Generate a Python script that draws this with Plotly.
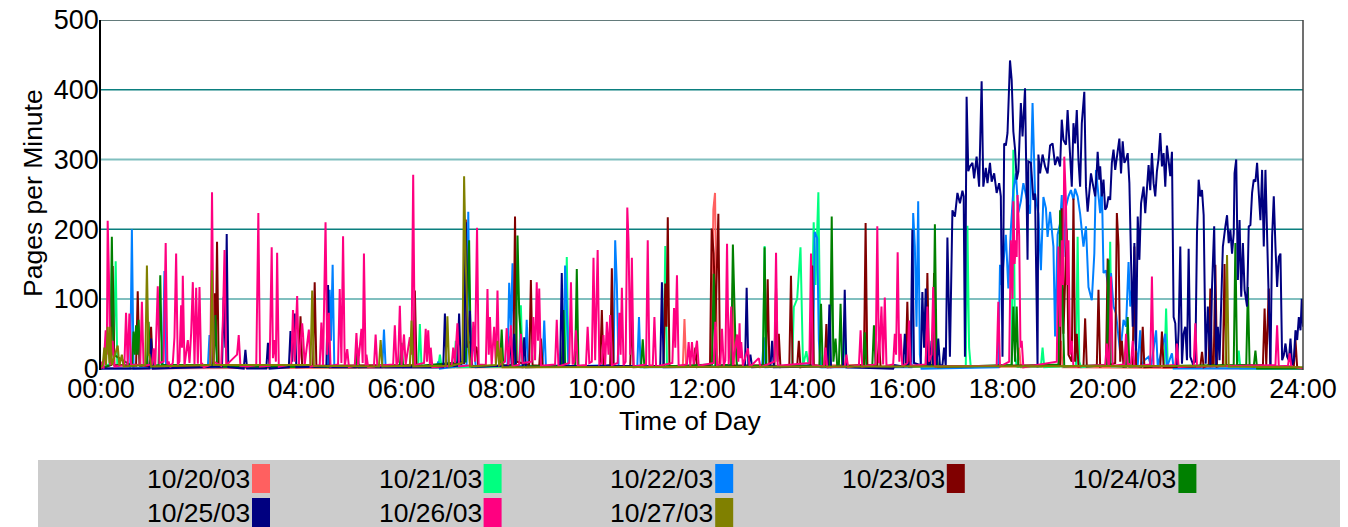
import plotly.graph_objects as go

# dates in the legend and their line colours
dates = ["10/20/03", "10/21/03", "10/22/03", "10/23/03", "10/24/03",
         "10/25/03", "10/26/03", "10/27/03"]
colors = ["#ff6060", "#00ff80", "#0080ff", "#800000", "#008000",
          "#000080", "#ff0080", "#808000"]

hour_ticks = [0, 2, 4, 6, 8, 10, 12, 14, 16, 18, 20, 22, 24]
hour_labels = ["00:00", "02:00", "04:00", "06:00", "08:00", "10:00", "12:00",
               "14:00", "16:00", "18:00", "20:00", "22:00", "24:00"]
y_ticks = [0, 100, 200, 300, 400, 500]

# (minute of day, pages per minute)
d20 = [(0, 0), (697, 3), (699, 71), (701, 3), (731, 5), (733.6, 228), (735.6, 252), (738, 20), (740, 2),
       (755, 5), (757, 123), (759, 3), (914, 5), (916, 124), (918, 3), (1098, 3), (1100, 30), (1102, 2),
       (1148, 3), (1150, 40), (1152, 2), (1440, 0)]

d21 = [(0, 0), (15, 10), (17.6, 154), (19.5, 5), (380, 3), (382, 64), (384, 2), (404, 2), (406, 20), (408, 2),
       (423, 2), (425, 40), (427, 2), (501, 3), (503, 91), (505, 3), (556, 3), (558, 160), (560, 3),
       (674, 4), (676, 176), (678, 3), (793, 3), (795, 176), (797, 3), (828, 4), (830, 88), (834, 100),
       (838, 174), (841, 4), (845, 25), (848, 3), (851, 40), (853.8, 210), (856, 120), (859.4, 253),
       (862, 20), (864, 2), (889, 3), (891, 53), (893, 2), (1036, 3), (1038, 205), (1040, 30), (1042, 2),
       (1091, 5), (1093, 314), (1095, 20), (1097, 3), (1126, 3), (1128, 30), (1130, 2), (1168, 4),
       (1170, 189), (1172, 10), (1174, 2), (1207, 5), (1209, 182), (1211, 3), (1274, 4), (1276, 86),
       (1278, 3), (1361, 3), (1363, 26), (1365, 0), (1440, 0)]

d22 = [(0, 0), (35, 0), (37, 200), (39, 0), (74, 2), (76, 140), (78, 2), (128, 2), (130, 48), (132, 2),
       (272, 3), (274, 113), (275.5, 40), (277.5, 149), (279.5, 3), (337, 2), (339, 56), (341, 2),
       (402, 2), (404, 10), (406, 0), (438, 5), (440, 225), (442, 20), (447, 30), (449, 2), (487, 5),
       (489, 123), (491, 60), (493, 151), (495, 5), (508, 3), (510, 70), (512, 3), (529, 4), (531, 69),
       (533, 3), (554, 5), (556, 148), (558, 90), (560, 3), (614, 5), (616, 184), (618, 120), (620, 4),
       (642.5, 3), (644.5, 74), (646.5, 2), (792, 3), (794, 45), (796, 2), (853, 5), (855, 196),
       (858, 187), (860, 40), (862, 2), (971, 2), (973, 223), (975, 175), (977, 60), (979, 240),
       (981, 20), (983, 0), (1075, 2), (1077, 149), (1079, 120), (1081, 150), (1084, 192), (1087, 115),
       (1090, 200), (1093, 256), (1096, 280), (1099, 224), (1102, 240), (1105, 266), (1109, 246),
       (1113, 222), (1116, 381), (1119, 251), (1123, 222), (1126, 141), (1129, 246), (1132, 230),
       (1134, 189), (1137, 225), (1141, 175), (1143, 46), (1146, 192), (1149, 208), (1151, 249),
       (1153, 160), (1156, 232), (1159, 247), (1162, 256), (1165, 242), (1167, 258), (1170, 247),
       (1173, 222), (1177, 175), (1180, 204), (1183, 117), (1187, 98), (1190, 165), (1192, 285),
       (1195, 247), (1197, 223), (1199, 266), (1201, 137), (1204, 141), (1207, 113), (1210, 137),
       (1213, 89), (1216, 79), (1221, 22), (1225, 70), (1228, 60), (1231, 153), (1233, 89), (1235, 113),
       (1239, 41), (1242, 5), (1245, 55), (1247, 3), (1250, 12), (1255, 17), (1258, 2), (1264, 55),
       (1266, 2), (1275, 50), (1277, 2), (1283, 22), (1285, 0), (1440, 0)]

d23 = [(0, 0), (12, 5), (14, 147), (16, 5), (42, 4), (44, 111), (46, 5), (58, 3), (60, 60), (62, 3),
       (134, 4), (136, 108), (137.5, 40), (139, 182), (141, 3), (237, 3), (239, 75), (241, 3), (254, 4),
       (256, 124), (258, 4), (374, 5), (376, 112), (378, 3), (435, 8), (437, 214), (439, 40), (450, 30),
       (452, 3), (494, 5), (496, 218), (498, 10), (513, 5), (515, 127), (517, 5), (525, 4), (527, 43),
       (529, 3), (598, 4), (600, 84), (602, 3), (610, 5), (612, 144), (614, 3), (634, 4), (636, 78),
       (638, 2), (674, 4), (676, 122), (677.5, 60), (679, 217), (681, 4), (710, 3), (712, 30), (714, 2),
       (729.6, 5), (731.6, 201), (734, 165), (736, 60), (739.6, 222), (741.6, 4), (796.7, 5),
       (798.7, 128), (800.7, 3), (806.7, 4), (808.7, 116), (810.5, 10), (812, 50), (814, 2),
       (824.6, 4), (826.6, 133), (828.6, 3), (834, 3), (836, 40), (838, 2), (850, 5), (852, 148),
       (854, 5), (867, 3), (869, 64), (871, 2), (914, 5), (916, 209), (918, 5), (930, 4), (932, 40),
       (934, 2), (964, 4), (966, 96), (968, 3), (988, 4), (990, 137), (992, 5), (996, 5), (998, 137),
       (1000, 3), (1149, 5), (1151, 230), (1153, 50), (1157, 200), (1159, 20), (1163, 10), (1165, 244),
       (1167, 10), (1169, 50), (1171, 3), (1177, 4), (1179, 72), (1181, 3), (1193, 4), (1195, 113),
       (1197, 3), (1204, 5), (1206, 158), (1208, 5), (1215, 8), (1217, 223), (1219, 177), (1221, 10),
       (1223, 40), (1225, 3), (1236, 5), (1238, 175), (1240, 4), (1246, 3), (1248, 60), (1250, 2),
       (1269, 3), (1271, 53), (1273, 2), (1317, 3), (1319, 24), (1321, 2), (1327, 5), (1329, 115),
       (1331, 3), (1333, 5), (1335, 149), (1337, 3), (1344, 5), (1346, 150), (1348, 4), (1392, 5),
       (1394, 86), (1396, 5), (1399, 115), (1401, 3), (1429, 3), (1431, 41), (1433, 2), (1440, 0)]

d24 = [(0, 0), (11, 5), (13, 189), (15, 20), (37, 4), (39, 53), (40.5, 20), (42, 62), (43.5, 20), (45, 70),
       (47, 4), (55, 5), (57, 67), (59, 3), (69, 5), (71, 134), (73, 5), (135, 5), (137, 77), (139, 3),
       (305, 2), (307, 30), (309, 2), (358, 3), (360, 37), (362, 2), (437, 10), (441, 184), (443, 20),
       (445, 3), (478, 4), (480, 56), (482, 3), (497, 6), (499, 191), (501, 80), (504, 30), (506, 3),
       (552, 4), (554, 84), (556, 3), (568, 4), (570, 143), (572, 3), (647, 3), (649, 42), (651, 2),
       (732, 6), (734, 136), (736, 5), (755, 5), (757, 178), (760, 40), (762, 3), (793, 4), (795, 174),
       (797, 3), (860.6, 4), (862.6, 93), (864.6, 3), (873.4, 5), (875.4, 218), (877.4, 10), (880, 43),
       (882, 3), (884, 5), (886, 93), (888, 3), (913, 3), (915, 52), (917, 2), (924, 3), (926, 62),
       (928, 2), (997, 5), (999, 207), (1001, 20), (1003, 2), (1091, 5), (1093, 89), (1095, 10),
       (1097, 89), (1099, 3), (1147, 6), (1149, 227), (1152, 80), (1154, 3), (1205, 5), (1207, 156),
       (1209, 4), (1228, 3), (1230, 74), (1232, 3), (1357, 5), (1359, 180), (1361, 5), (1372, 5),
       (1374, 117), (1376, 4), (1381, 3), (1383, 26), (1385, 0), (1440, 0)]

d25 = [(0, 0), (58, 0), (60, 43), (62, 0), (145, 3), (147, 103), (149, 30), (150.6, 193), (152.5, 2),
       (171, 0), (173, 27), (175, 0), (198, 0), (200, 37), (202, 0), (225, 2), (227, 54), (229, 10),
       (232, 79), (234, 2), (270, 3), (272, 120), (274, 2), (410, 2), (412, 79), (414, 3), (427, 4),
       (429, 79), (431, 6), (435, 10), (437, 210), (439, 30), (442, 83), (444, 3), (488, 4), (490, 46),
       (492, 5), (495, 50), (497, 3), (505, 2), (507, 45), (509, 2), (550, 3), (552, 137), (554, 4),
       (670, 3), (672, 124), (674, 2), (771.5, 3), (773.5, 116), (775.5, 4), (778, 20), (780, 2),
       (802, 3), (804, 40), (806, 2), (870.6, 3), (872.6, 92), (874.6, 2), (889, 3), (891, 113),
       (893, 2), (949, 0), (951, 5), (961, 3), (963, 50), (965, 5), (970, 10), (972, 199), (974, 8),
       (982, 5), (984, 110), (986, 30), (988, 115), (990, 6), (993, 5), (995, 40), (997, 5), (1001, 6),
       (1003, 43), (1005, 5), (1008, 4), (1010, 30), (1012, 3), (1014, 188), (1017, 17), (1020, 227),
       (1023, 218), (1026, 252), (1029, 237), (1032, 255), (1033.5, 247), (1035, 17), (1037, 390),
       (1039, 283), (1041, 290), (1044, 295), (1046, 273), (1049, 304), (1052, 261), (1055, 412),
       (1057, 261), (1060, 288), (1062, 266), (1065, 295), (1067, 268), (1070, 280), (1073, 252),
       (1076, 266), (1078, 247), (1080, 17), (1082, 323), (1084, 320), (1086, 338), (1089, 442),
       (1091, 414), (1093, 340), (1095, 315), (1097, 271), (1099, 283), (1102, 381), (1104, 333),
       (1107, 402), (1110, 156), (1111, 297), (1114, 295), (1117, 242), (1119, 251), (1122, 2),
       (1123, 307), (1125, 280), (1128, 307), (1131, 290), (1134, 280), (1137, 320), (1140, 323),
       (1143, 292), (1146, 304), (1149, 290), (1151, 357), (1153, 328), (1156, 321), (1158, 371),
       (1161, 314), (1163, 261), (1165, 352), (1167, 323), (1169, 371), (1171, 299), (1173, 261),
       (1175, 352), (1178, 397), (1180, 261), (1182, 225), (1184, 251), (1186, 280), (1188, 266),
       (1191, 247), (1193, 285), (1194, 311), (1196, 271), (1197, 290), (1199, 247), (1201, 271),
       (1203, 228), (1205, 232), (1207, 247), (1209, 242), (1211, 295), (1213, 314), (1215, 285),
       (1217, 304), (1220, 330), (1222, 280), (1224, 326), (1226, 295), (1228, 300), (1230, 309),
       (1232, 266), (1234, 156), (1236, 60), (1238, 180), (1240, 26), (1242, 218), (1244, 156),
       (1246, 237), (1249, 261), (1251, 223), (1253, 266), (1255, 292), (1257, 256), (1259, 309),
       (1261, 266), (1263, 247), (1265, 283), (1267, 302), (1269, 338), (1271, 290), (1273, 309),
       (1275, 261), (1277, 320), (1279, 300), (1281, 276), (1283, 311), (1285, 74), (1287, 65),
       (1289, 2), (1291, 55), (1293, 175), (1295, 7), (1297, 50), (1299, 60), (1301, 12), (1303, 172),
       (1305, 17), (1308, 7), (1311, 10), (1313, 194), (1315, 271), (1317, 247), (1319, 256),
       (1321, 220), (1323.4, 7), (1326, 89), (1329, 2), (1331, 117), (1333.6, 204), (1336, 2),
       (1338, 60), (1340, 12), (1344, 175), (1347, 204), (1349, 220), (1351, 180), (1353, 199),
       (1355, 165), (1357, 194), (1358, 280), (1360, 300), (1362, 127), (1364, 213), (1366, 103),
       (1368, 180), (1370, 113), (1373, 89), (1375, 204), (1377, 206), (1379, 252), (1381, 271),
       (1383, 268), (1385, 295), (1387, 252), (1389, 213), (1391, 285), (1393, 175), (1395, 285),
       (1397, 184), (1399, 98), (1401, 2), (1403, 189), (1405, 247), (1407, 175), (1409, 117),
       (1411, 160), (1413, 165), (1415, 12), (1417, 19), (1419, 36), (1421, 17), (1423, 12), (1425, 43),
       (1427, 5), (1429, 12), (1431, 55), (1433, 41), (1435, 74), (1437, 55), (1438.5, 100), (1440, 60)]

d26 = [(0, 0), (1, 10), (3, 0), (5.6, 55), (7, 20), (8, 212), (9.5, 134), (11, 5), (14, 40), (16, 3),
       (28, 5), (30, 80), (32, 4), (34, 79), (36, 6), (47, 5), (49, 96), (51, 4), (61, 6), (63, 29),
       (65, 3), (68, 118), (70, 8), (75, 10), (77.5, 180), (79.5, 6), (81, 10), (83, 2), (86, 8),
       (88, 45), (90, 165), (92, 5), (94, 10), (96, 91), (97, 30), (98, 133), (100, 4), (104, 41),
       (106, 8), (108, 51), (110, 124), (112, 6), (114, 116), (116, 7), (118, 117), (120, 3), (121, 8),
       (123, 2), (131, 5), (133, 253), (135, 10), (144, 4), (146, 69), (148, 170), (150, 5), (163, 20),
       (165, 48), (167, 4), (175, 3), (186, 5), (188.5, 223), (190.5, 3), (202, 4), (204.5, 174),
       (206, 15), (208, 41), (209.5, 10), (211, 166), (213, 3), (228, 6), (230, 84), (232, 10),
       (235, 104), (237, 6), (241, 65), (242, 50), (244, 5), (249, 56), (251, 3), (262, 5), (264, 66),
       (266, 4), (269, 210), (271, 20), (273, 80), (275, 3), (284, 6), (286, 114), (288, 8), (290, 190),
       (292, 3), (295, 28), (297, 2), (304, 4), (306, 51), (308, 5), (312, 57), (313.5, 8), (315, 165),
       (317, 4), (318, 20), (320, 2), (327, 3), (329, 49), (331, 4), (350, 6), (352, 62), (354, 5),
       (356, 10), (358, 90), (360, 4), (363, 49), (365, 6), (370, 45), (372, 20), (374, 278), (376, 5),
       (387, 8), (389, 57), (390.5, 10), (392, 55), (394, 6), (395, 30), (397, 2), (420, 4), (422, 30),
       (424, 8), (427, 65), (429, 3), (444, 5), (446, 67), (448, 10), (450.5, 202), (452.5, 6),
       (461, 5), (463, 114), (464.5, 20), (466, 74), (468, 5), (471, 60), (473, 8), (475, 112),
       (477, 5), (484, 10), (486, 58), (488, 5), (491, 62), (493, 3), (501, 6), (503, 50), (505, 8),
       (516, 10), (518, 74), (520, 12), (522, 124), (523.5, 40), (525, 115), (527, 4), (544, 6),
       (546, 70), (548, 3), (561, 8), (563, 124), (565, 6), (567, 10), (569, 55), (571, 4), (581, 5),
       (583, 60), (585, 8), (588, 10), (590, 159), (592, 12), (595, 170), (597, 6), (600, 8), (602, 48),
       (604, 5), (606, 67), (608, 20), (610, 77), (612, 5), (619, 8), (621, 80), (622.5, 20),
       (624, 116), (626, 5), (628.5, 10), (630.5, 231), (632, 182), (634, 20), (636, 159), (638, 3),
       (653, 6), (655, 184), (657, 4), (661, 5), (663, 74), (665, 3), (684.5, 8), (686.5, 87),
       (688, 30), (690, 134), (692, 4), (702, 6), (704, 38), (706, 4), (708, 38), (710, 6), (714, 40),
       (716, 4), (734, 8), (736, 67), (738, 5), (742, 6), (744, 57), (746, 4), (748, 12), (750, 179),
       (752, 6), (755, 89), (757, 5), (762, 49), (763.5, 10), (765, 65), (766, 15), (767, 38),
       (769, 4), (775, 29), (777, 2), (788, 15), (790, 2), (806.7, 10), (808.7, 166), (810.7, 4),
       (848.6, 8), (850.6, 165), (852.6, 5), (866, 3), (868, 30), (870, 2), (891, 3), (893, 20),
       (895, 2), (908, 5), (910, 55), (912, 3), (928, 6), (930, 204), (932, 8), (935, 89), (937, 6),
       (939, 102), (941, 4), (949, 6), (951, 50), (952.5, 20), (954.4, 167), (956.4, 10), (958, 50),
       (960, 3), (966, 8), (968, 69), (970, 4), (988, 6), (990, 89), (992, 10), (995, 20), (997, 117),
       (999, 3), (1073, 4), (1075, 96), (1077, 3), (1088, 10), (1090, 184), (1092, 100), (1093, 240),
       (1094.5, 150), (1096, 184), (1097, 160), (1098, 249), (1100, 190), (1101.5, 30), (1103, 40),
       (1105, 2), (1145, 10), (1147, 175), (1149, 60), (1151, 184), (1152.5, 120), (1154, 304),
       (1156, 240), (1157.5, 120), (1159, 184), (1161, 20), (1163, 40), (1165, 3), (1203, 5),
       (1205, 36), (1207, 3), (1208, 10), (1210, 132), (1212, 4), (1226, 6), (1228, 50), (1230, 5),
       (1234, 8), (1236, 40), (1238, 3), (1257, 6), (1259, 132), (1261, 3), (1287, 5), (1289, 36),
       (1291, 2), (1309, 4), (1311, 65), (1313, 3), (1407, 5), (1409, 62), (1411, 3), (1422, 4),
       (1424, 22), (1426, 3), (1440, 0)]

d27 = [(0, 2), (2, 5), (4, 30), (6, 5), (8, 60), (10, 8), (11, 60), (13, 5), (20, 33), (22, 4), (25, 20),
       (27, 3), (53, 5), (55, 148), (57, 20), (58, 20), (60, 3), (131, 5), (133, 141), (135, 5),
       (251, 5), (253, 112), (255, 4), (333, 3), (335, 41), (337, 3), (370, 4), (372, 69), (374, 3),
       (413, 4), (415, 75), (417, 3), (433, 8), (435, 276), (437, 150), (440, 40), (442, 3), (473, 5),
       (475, 40), (477, 3), (479, 30), (481, 2), (1347, 4), (1349, 163), (1351, 3), (1440, 2)]

series = [d20, d21, d22, d23, d24, d25, d26, d27]

fig = go.Figure()
for name, col, pts in zip(dates, colors, series):
    fig.add_trace(go.Scatter(
        x=[p[0] / 60 for p in pts], y=[p[1] for p in pts],
        mode="lines", name=name, line=dict(color=col, width=2),
        showlegend=False))

# the page puts the figure 8px in from the window corner, so lay it out 8px up-left
OFF = 8
W, H = 1348, 527
L, T = 101 - OFF, 20 - OFF
R = W - (1303 - OFF)
B = H - (370 - OFF)
pw, ph = W - L - R, H - T - B


def px(x):  # window pixel column -> paper x
    return (x - OFF - L) / pw


def py(y):  # window pixel row -> paper y
    return (H - B - (y - OFF)) / ph


shapes = []
# horizontal guide lines, alternating dark / light teal
for v in [100, 200, 300, 400, 500]:
    if v == 500:
        c, w = "#2f4f4f", 1.5
    elif v % 200 == 0:
        c, w = "#0b7f7f", 1.5
    else:
        c, w = "#80bfbf", 2
    shapes.append(dict(type="line", xref="paper", yref="y", x0=0, x1=1, y0=v, y1=v,
                       line=dict(color=c, width=w), layer="below"))
# right border
shapes.append(dict(type="line", xref="paper", yref="paper", x0=1, x1=1, y0=0, y1=1,
                   line=dict(color="#404040", width=1.5)))

# legend panel
shapes.append(dict(type="rect", xref="paper", yref="paper", x0=px(38), x1=px(1356),
                   y0=py(460), y1=py(540), fillcolor="#cccccc", line=dict(width=0), layer="below"))
annotations = []
for i, (name, col) in enumerate(zip(dates, colors)):
    row, colno = divmod(i, 5)
    sx = 252 + colno * 231.6
    top = 464 + row * 34
    shapes.append(dict(type="rect", xref="paper", yref="paper", x0=px(sx), x1=px(sx + 18),
                       y0=py(top), y1=py(top + 29), fillcolor=col, line=dict(width=0)))
    annotations.append(dict(xref="paper", yref="paper", x=px(sx), y=py(top + 15),
                            text=name, showarrow=False, xanchor="right", yanchor="middle",
                            font=dict(size=26.5, color="black")))

# axis titles
annotations.append(dict(xref="paper", yref="paper", x=px(690), y=py(421), text="Time of Day",
                        showarrow=False, xanchor="center", yanchor="middle",
                        font=dict(size=26.5, color="black")))
annotations.append(dict(xref="paper", yref="paper", x=px(33), y=py(193), text="Pages per Minute",
                        showarrow=False, xanchor="center", yanchor="middle", textangle=-90,
                        font=dict(size=26.5, color="black")))

fig.update_layout(
    width=W, height=H,
    margin=dict(l=L, r=R, t=T, b=B, autoexpand=False),
    paper_bgcolor="white", plot_bgcolor="white",
    font=dict(family="Liberation Sans, Arial", size=27, color="black"),
    xaxis=dict(range=[0, 24], tickvals=hour_ticks, ticktext=hour_labels, automargin=False,
               showgrid=False, zeroline=False, showline=False, ticks="",
               ticklabeloverflow="allow", tickfont=dict(size=27)),
    yaxis=dict(range=[-2, 500], tickvals=y_ticks, showgrid=False, zeroline=False, automargin=False,
               showline=True, linecolor="black", linewidth=1.5, ticks="", ticklabelstandoff=-5,
               ticklabeloverflow="allow", tickfont=dict(size=27)),
    shapes=shapes, annotations=annotations,
)

fig.write_html("out.html")
